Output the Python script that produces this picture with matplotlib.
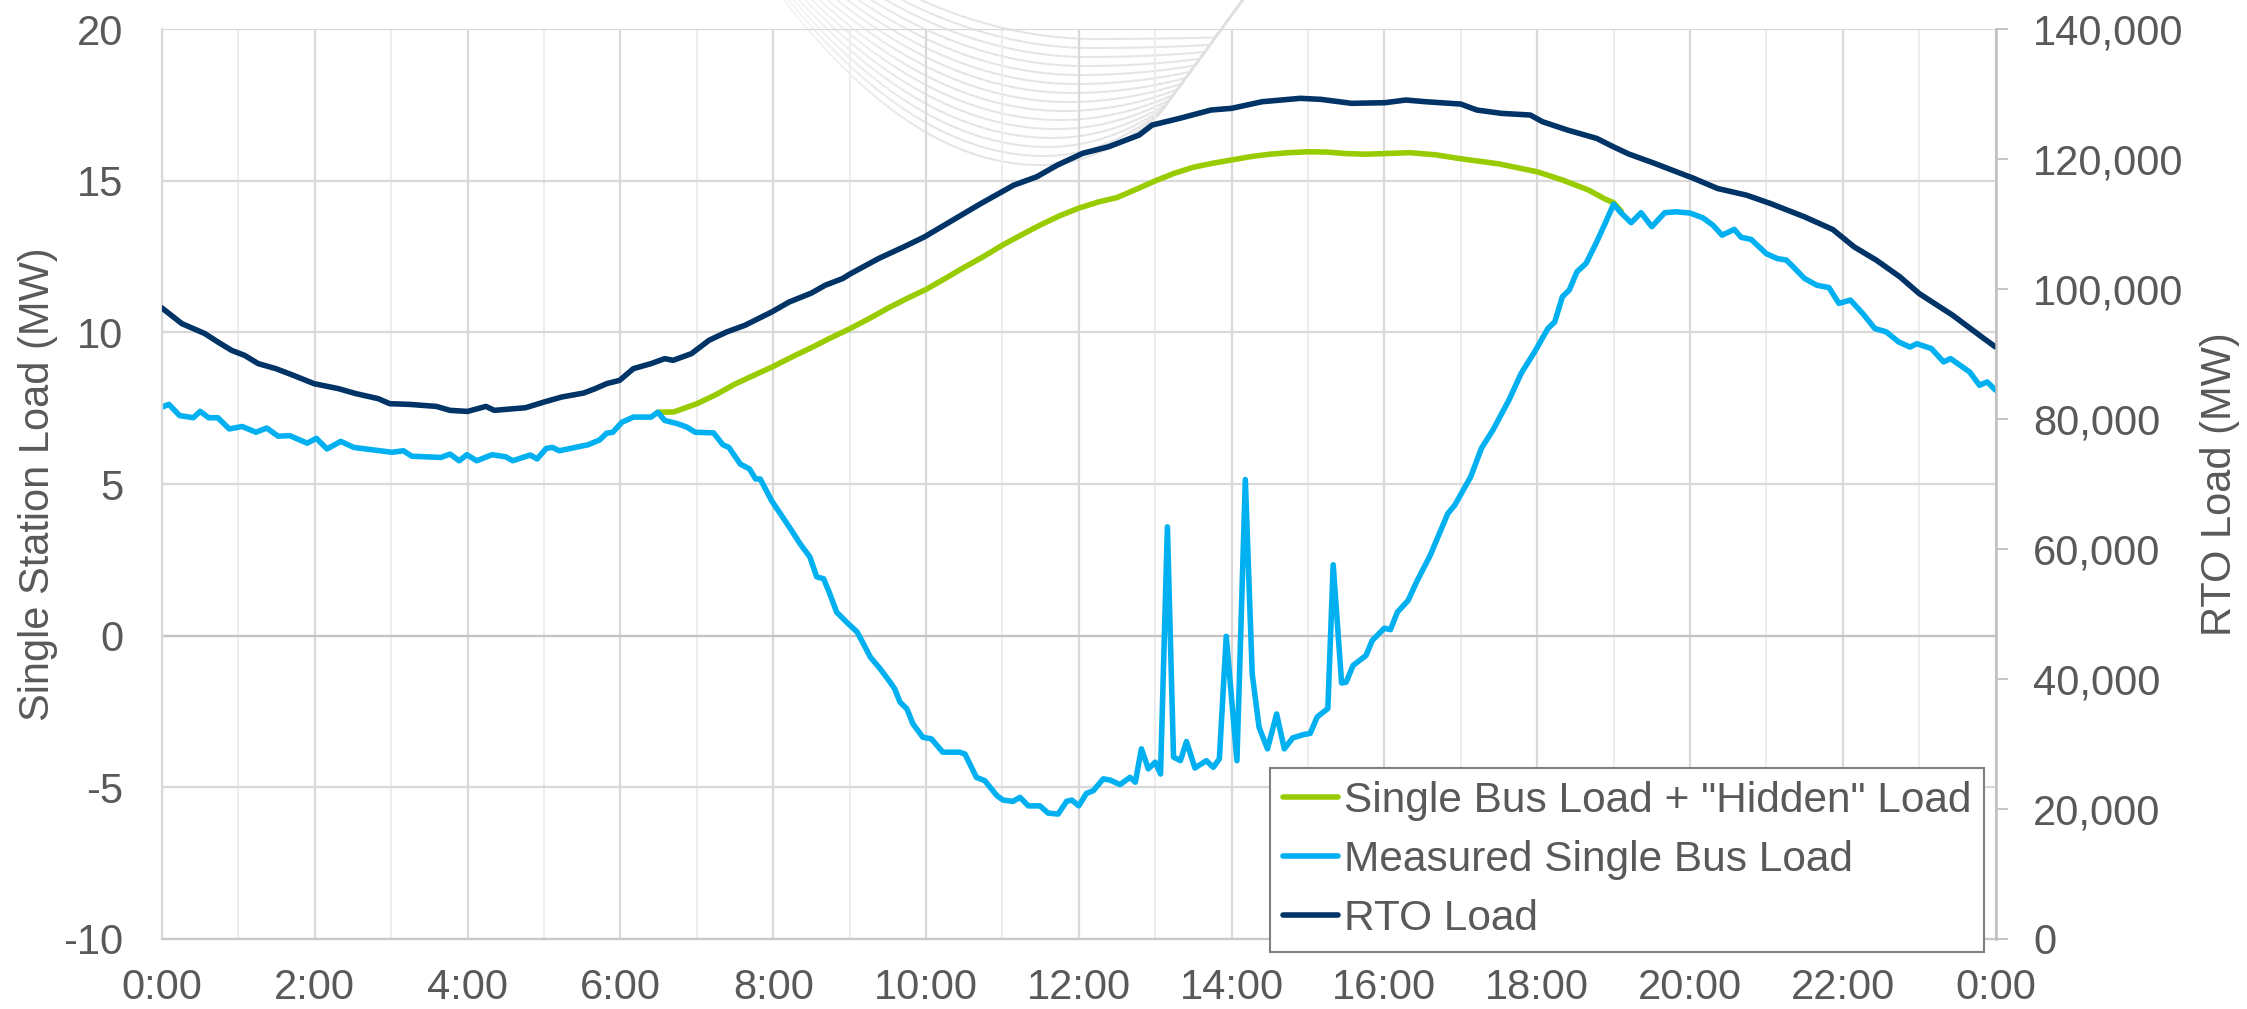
import numpy as np
import matplotlib
import matplotlib.pyplot as plt
from matplotlib.collections import LineCollection
from matplotlib.ticker import FuncFormatter, MultipleLocator

matplotlib.use("Agg")

plt.rcParams["font.family"] = ["Liberation Sans", "DejaVu Sans"]
plt.rcParams["axes.unicode_minus"] = False

# === Data (hours since midnight) ===
bus_hours = [
    0.00, 0.09, 0.23, 0.41, 0.50, 0.61, 0.73, 0.88, 1.05, 1.23, 1.37, 1.52, 1.67,
    1.90, 2.02, 2.16, 2.34, 2.51, 3.01, 3.16, 3.27, 3.65, 3.77, 3.89, 3.99, 4.12,
    4.32, 4.50, 4.59, 4.82, 4.91, 5.03, 5.11, 5.20, 5.58, 5.73, 5.82, 5.90, 6.02,
    6.17, 6.40, 6.49, 6.58, 6.75, 6.87, 6.98, 7.22, 7.34, 7.42, 7.57, 7.69, 7.77,
    7.83, 7.98, 8.10, 8.22, 8.35, 8.48, 8.57, 8.66, 8.74, 8.83, 8.96, 9.10, 9.18,
    9.27, 9.40, 9.53, 9.59, 9.66, 9.75, 9.83, 9.96, 10.07, 10.22, 10.44, 10.51,
    10.66, 10.77, 10.93, 11.01, 11.14, 11.23, 11.34, 11.49, 11.60, 11.73, 11.84,
    11.91, 12.00, 12.10, 12.19, 12.32, 12.41, 12.54, 12.67, 12.74, 12.82, 12.91,
    13.00, 13.07, 13.16, 13.24, 13.33, 13.41, 13.52, 13.67, 13.76, 13.84, 13.93,
    14.07, 14.18, 14.27, 14.36, 14.47, 14.59, 14.69, 14.80, 14.94, 15.03, 15.12,
    15.26, 15.33, 15.44, 15.50, 15.59, 15.76, 15.84, 16.00, 16.08, 16.17, 16.31,
    16.43, 16.60, 16.72, 16.83, 16.92, 17.13, 17.27, 17.42, 17.63, 17.79, 17.98,
    18.14, 18.23, 18.33, 18.42, 18.52, 18.64, 18.77, 18.89, 19.00, 19.10, 19.23,
    19.36, 19.50, 19.67, 19.82, 20.00, 20.17, 20.30, 20.42, 20.58, 20.67, 20.80,
    21.00, 21.14, 21.26, 21.33, 21.50, 21.66, 21.82, 21.95, 22.10, 22.26, 22.42,
    22.57, 22.73, 22.88, 22.97, 23.16, 23.32, 23.41, 23.66, 23.79, 23.89, 24.00,
]
bus_mw = [
    7.54, 7.63, 7.26, 7.19, 7.40, 7.19, 7.19, 6.82, 6.90, 6.71, 6.85, 6.58, 6.60,
    6.35, 6.51, 6.16, 6.41, 6.21, 6.05, 6.10, 5.92, 5.88, 5.99, 5.77, 5.97, 5.77,
    5.97, 5.90, 5.77, 5.96, 5.83, 6.18, 6.21, 6.10, 6.30, 6.46, 6.68, 6.71, 7.04,
    7.21, 7.21, 7.37, 7.10, 6.99, 6.88, 6.71, 6.69, 6.30, 6.21, 5.66, 5.50, 5.17,
    5.17, 4.45, 4.00, 3.55, 3.04, 2.60, 1.94, 1.88, 1.39, 0.78, 0.45, 0.12, -0.26,
    -0.70, -1.09, -1.53, -1.75, -2.19, -2.41, -2.91, -3.35, -3.40, -3.84, -3.84, -3.90,
    -4.67, -4.78, -5.28, -5.42, -5.46, -5.33, -5.61, -5.61, -5.85, -5.88, -5.46,
    -5.42, -5.61, -5.20, -5.11, -4.72, -4.76, -4.91, -4.67, -4.83, -3.73, -4.39,
    -4.17, -4.56, 3.59, -4.00, -4.12, -3.49, -4.36, -4.12, -4.34, -4.06, -0.02,
    -4.12, 5.15, -1.26, -3.02, -3.73, -2.58, -3.73, -3.37, -3.26, -3.22, -2.68,
    -2.40, 2.34, -1.56, -1.53, -0.98, -0.65, -0.16, 0.25, 0.20, 0.78, 1.16,
    1.82, 2.65, 3.37, 4.03, 4.30, 5.24, 6.18, 6.78, 7.77, 8.65, 9.42,
    10.13, 10.35, 11.18, 11.40, 12.00, 12.28, 12.94, 13.60, 14.23, 13.94, 13.62,
    13.95, 13.49, 13.95, 13.98, 13.94, 13.78, 13.54, 13.21, 13.40, 13.14, 13.07,
    12.60, 12.44, 12.39, 12.22, 11.78, 11.56, 11.48, 10.96, 11.07, 10.63, 10.13,
    10.02, 9.69, 9.52, 9.63, 9.47, 9.03, 9.14, 8.70, 8.26, 8.37, 8.10,
]

hidden_hours = [
    6.49, 6.70, 7.00, 7.25, 7.50, 7.80, 8.00, 8.25, 8.50, 8.75, 9.00, 9.25, 9.50,
    9.75, 10.00, 10.25, 10.50, 10.75, 11.00, 11.25, 11.50, 11.75, 12.00, 12.25,
    12.50, 12.75, 13.00, 13.25, 13.50, 13.75, 14.00, 14.25, 14.50, 14.75, 15.00,
    15.25, 15.50, 15.75, 16.00, 16.33, 16.67, 17.00, 17.50, 18.00, 18.33, 18.67,
    18.89, 19.00, 19.10,
]
hidden_mw = [
    7.37, 7.38, 7.65, 7.95, 8.30, 8.65, 8.88, 9.20, 9.50, 9.82, 10.12, 10.45, 10.80,
    11.12, 11.42, 11.78, 12.15, 12.50, 12.88, 13.22, 13.55, 13.85, 14.10, 14.30,
    14.45, 14.72, 15.00, 15.25, 15.45, 15.58, 15.69, 15.80, 15.88, 15.93, 15.96,
    15.95, 15.90, 15.88, 15.90, 15.93, 15.86, 15.73, 15.56, 15.30, 15.03, 14.70,
    14.40, 14.28, 14.00,
]

rto_hours = [
    0.00, 0.26, 0.56, 0.73, 0.91, 1.08, 1.26, 1.49, 1.72, 1.99, 2.31, 2.54, 2.83,
    2.98, 3.24, 3.59, 3.77, 4.00, 4.24, 4.35, 4.76, 5.00, 5.23, 5.52, 5.67, 5.82,
    5.99, 6.17, 6.40, 6.58, 6.69, 6.93, 7.16, 7.39, 7.63, 7.98, 8.21, 8.50, 8.68,
    8.91, 9.00, 9.38, 9.71, 9.98, 10.35, 10.72, 11.15, 11.45, 11.72, 12.05, 12.39,
    12.79, 12.96, 13.32, 13.73, 14.00, 14.40, 14.90, 15.17, 15.57, 16.01, 16.28,
    16.54, 17.00, 17.21, 17.53, 17.91, 18.07, 18.40, 18.78, 19.00, 19.20, 19.54,
    19.86, 20.05, 20.36, 20.74, 21.05, 21.50, 21.87, 22.15, 22.44, 22.75, 23.00,
    23.44, 23.82, 24.00,
]
rto_mw = [
    97100, 94700, 93170, 91880, 90590, 89820, 88540, 87770, 86740, 85460, 84690,
    83920, 83150, 82380, 82270, 81960, 81350, 81190, 81960, 81350, 81760, 82630,
    83400, 84020, 84690, 85460, 85970, 87770, 88540, 89310, 89050, 90080, 92130,
    93410, 94440, 96490, 98030, 99400, 100600, 101640, 102300, 104720, 106510,
    108050, 110620, 113190, 116010, 117300, 119100, 120900, 121920, 123720, 125260,
    126290, 127570, 127830, 128850, 129370, 129210, 128600, 128700, 129110, 128850,
    128490, 127570, 127060, 126800, 125770, 124480, 123200, 121900, 120800, 119350,
    117900, 117050, 115500, 114470, 113200, 111130, 109180, 106500, 104460, 101880,
    99330, 95980, 92640, 91100,
]

x_ticks = list(range(0, 25, 2))
x_tick_labels = [f"{h % 24}:00" for h in x_ticks]
left_ticks = [-10, -5, 0, 5, 10, 15, 20]
right_ticks = list(range(0, 140001, 20000))

GREEN = "#99cc00"
LIGHT_BLUE = "#00b0f0"
NAVY = "#003366"
TEXT = "#595959"

W, H = 2247, 1009


def draw_watermark(fig):
    # faint swoosh curves behind the plot, in pixel coordinates
    bg = fig.add_axes([0, 0, 1, 1], zorder=-1)
    bg.set_xlim(0, W)
    bg.set_ylim(H, 0)
    bg.axis("off")
    x = np.linspace(650, 1270, 700)
    edge = 127 - 1.37 * (x - 1150)
    fade = np.clip((x - 720) / 220, 0, 1)[:-1]
    for k in range(15):
        b = 165 - 9 * k
        c = 1040 + 4 * k
        a_l = (b - (74 - 8 * k)) / (c - 850) ** 2
        a_r = 0.0035 * (1 - k / 15) ** 1.5 + 0.00005
        y = np.where(x < c, b - a_l * (x - c) ** 2, b - a_r * (x - c) ** 2)
        y = np.minimum(y, edge)
        pts = np.column_stack([x, y]).reshape(-1, 1, 2)
        segs = np.concatenate([pts[:-1], pts[1:]], axis=1)
        colors = np.zeros((len(segs), 4))
        colors[:, :3] = 0.88
        colors[:, 3] = fade
        bg.add_collection(LineCollection(segs, colors=colors, linewidths=1.4))


fig = plt.figure(figsize=(W / 100, H / 100), dpi=100)
draw_watermark(fig)

ax = fig.add_axes([0.0721, 0.0694, 0.8160, 0.9016])
ax.set_facecolor("none")
ax.set_xlim(0, 24)
ax.set_ylim(-10, 20)
ax.set_xticks(x_ticks)
ax.set_xticklabels(x_tick_labels)
ax.xaxis.set_minor_locator(MultipleLocator(1))
ax.set_yticks(left_ticks)
ax.grid(which="minor", axis="x", color="#ededed", lw=1.4)
ax.grid(which="major", color="#d9d9d9", lw=1.6)
ax.axhline(0, color="#c4c4c4", lw=1.6, zorder=1.6)
ax.tick_params(which="both", length=0)
ax.tick_params(axis="x", pad=21, labelsize=30, labelcolor=TEXT)
ax.tick_params(axis="y", pad=28, labelsize=30, labelcolor=TEXT)
ax.spines["top"].set_visible(False)
ax.spines["right"].set_visible(False)
ax.spines["left"].set_color("#d9d9d9")
ax.spines["left"].set_linewidth(1.6)
ax.spines["bottom"].set_color("#c8c8c8")
ax.spines["bottom"].set_linewidth(1.6)
ax.set_ylabel("Single Station Load (MW)", fontsize=30, color=TEXT)
ax.yaxis.set_label_coords(-0.0567, 0.5)

line_kw = dict(lw=4.0, solid_joinstyle="round", solid_capstyle="round")
(h_hidden,) = ax.plot(hidden_hours, hidden_mw, color=GREEN, **line_kw)
(h_bus,) = ax.plot(bus_hours, bus_mw, color=LIGHT_BLUE, **line_kw)

ax2 = ax.twinx()
ax2.set_ylim(0, 140000)
ax2.set_yticks(right_ticks)
ax2.yaxis.set_major_formatter(FuncFormatter(lambda v, p: f"{v:,.0f}"))
ax2.tick_params(axis="y", length=8.6, width=1.3, color="#bfbfbf", pad=18.5,
                labelsize=30, labelcolor=TEXT)
for side in ["top", "left", "bottom"]:
    ax2.spines[side].set_visible(False)
ax2.spines["right"].set_color("#bfbfbf")
ax2.spines["right"].set_linewidth(1.8)
(h_rto,) = ax2.plot(rto_hours, rto_mw, color=NAVY, **line_kw)
ax2.set_ylabel("RTO Load (MW)", fontsize=30, color=TEXT)
ax2.yaxis.set_label_coords(1.1115, 0.5)

leg = fig.legend(
    [h_hidden, h_bus, h_rto],
    ['Single Bus Load + "Hidden" Load', "Measured Single Bus Load", "RTO Load"],
    loc="lower left",
    bbox_to_anchor=(1270 / W, 1 - 952 / H),
    fontsize=30.5,
    labelcolor=TEXT,
    frameon=True,
    fancybox=False,
    edgecolor="#7f7f7f",
    framealpha=1,
    handlelength=1.3,
    handletextpad=0.15,
    borderpad=0.3,
    labelspacing=0.45,
    borderaxespad=0,
)
leg.get_frame().set_linewidth(1.5)

fig.savefig("out.png", dpi=100, facecolor="white")
